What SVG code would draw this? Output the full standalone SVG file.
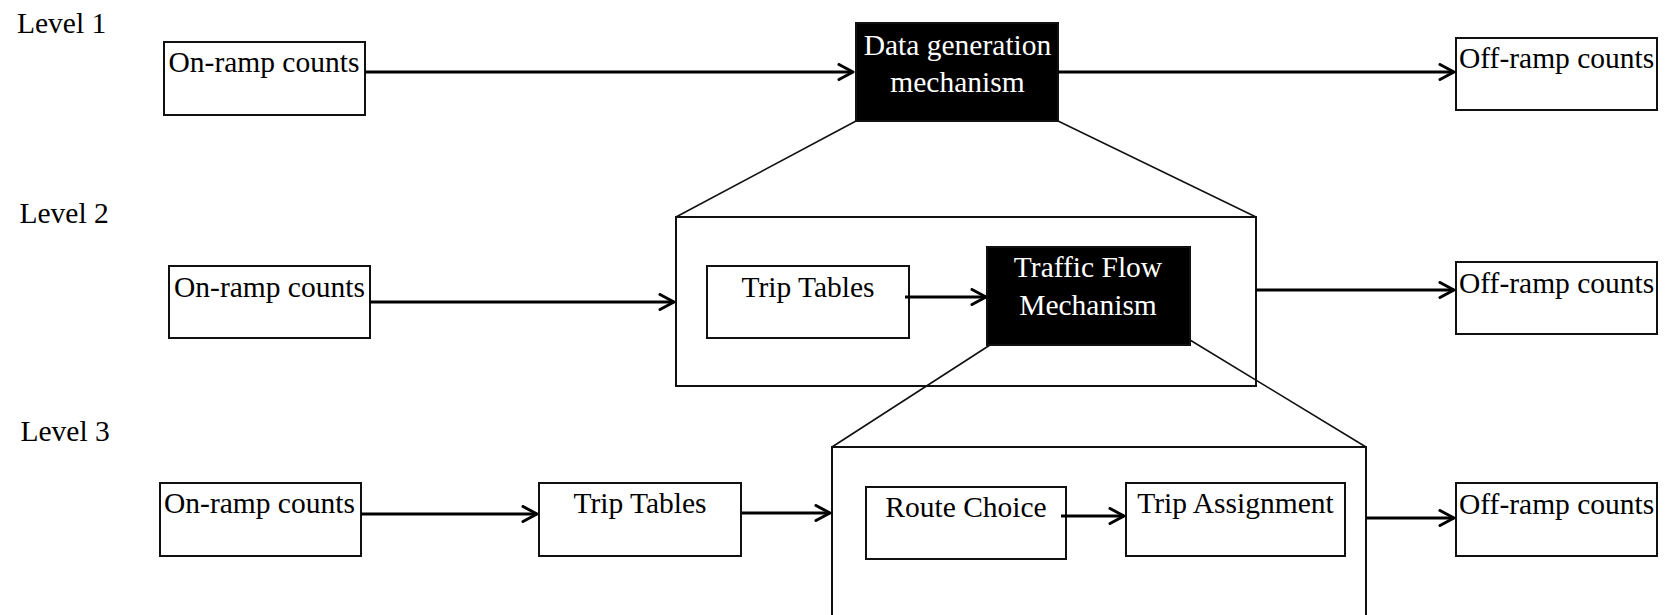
<svg xmlns="http://www.w3.org/2000/svg" width="1672" height="615" viewBox="0 0 1672 615">
  <style>
    .box { fill: #ffffff; stroke: #111111; stroke-width: 2; }
    .dark { fill: #000000; stroke: #111111; stroke-width: 2; }
    .frame { fill: none; stroke: #111111; stroke-width: 2; }
    .zoom { fill: none; stroke: #111111; stroke-width: 1.6; }
    .flow { fill: none; stroke: #000000; stroke-width: 3; marker-end: url(#chevron); }
    text { font-family: "Liberation Serif", "Times New Roman", serif; font-size: 29.5px; fill: #000000; }
    .light { fill: #ffffff; }
    .mid { text-anchor: middle; }
  </style>
  <defs>
    <marker id="chevron" markerUnits="userSpaceOnUse" viewBox="0 0 18 18" refX="16" refY="9" markerWidth="18" markerHeight="18" orient="auto">
      <path d="M2,1.5 L16,9 L2,16.5" fill="none" stroke="#000000" stroke-width="3" stroke-linejoin="round" stroke-linecap="round"/>
    </marker>
  </defs>
  <rect width="1672" height="615" fill="#ffffff"/>

  <!-- level labels -->
  <g id="level-labels">
    <text x="17" y="33">Level 1</text>
    <text x="19.5" y="223">Level 2</text>
    <text x="20.5" y="441">Level 3</text>
  </g>

  <!-- expansion frames (open-bottom frame for level 3) -->
  <g id="frame-level2">
    <rect class="frame" x="676" y="217" width="580" height="169"/>
  </g>
  <g id="frame-level3">
    <path class="frame" d="M832,620 L832,447 L1366,447 L1366,620"/>
  </g>

  <!-- level 1 -->
  <g id="l1-onramp">
    <rect class="box" x="164" y="42" width="201" height="73"/>
    <text x="168.5" y="72">On-ramp counts</text>
  </g>
  <g id="l1-datagen">
    <rect class="dark" x="856" y="23" width="202" height="98"/>
    <text class="light mid" x="957.5" y="54.5">Data generation</text>
    <text class="light mid" x="957.5" y="92">mechanism</text>
  </g>
  <g id="l1-offramp">
    <rect class="box" x="1456" y="38" width="201" height="72"/>
    <text x="1459" y="68">Off-ramp counts</text>
  </g>

  <!-- level 2 -->
  <g id="l2-onramp">
    <rect class="box" x="169" y="266" width="201" height="72"/>
    <text x="174" y="297">On-ramp counts</text>
  </g>
  <g id="l2-triptables">
    <rect class="box" x="707" y="266" width="202" height="72"/>
    <text class="mid" x="808" y="297">Trip Tables</text>
  </g>
  <g id="l2-trafficflow">
    <rect class="dark" x="987" y="247" width="203" height="98"/>
    <text class="light mid" x="1088" y="277">Traffic Flow</text>
    <text class="light mid" x="1088" y="315">Mechanism</text>
  </g>
  <g id="l2-offramp">
    <rect class="box" x="1456" y="262" width="201" height="72"/>
    <text x="1459" y="293">Off-ramp counts</text>
  </g>

  <!-- level 3 -->
  <g id="l3-onramp">
    <rect class="box" x="160" y="483" width="201" height="73"/>
    <text x="164" y="513">On-ramp counts</text>
  </g>
  <g id="l3-triptables">
    <rect class="box" x="539" y="483" width="202" height="73"/>
    <text class="mid" x="640" y="513">Trip Tables</text>
  </g>
  <g id="l3-routechoice">
    <rect class="box" x="866" y="487" width="200" height="72"/>
    <text class="mid" x="966" y="517">Route Choice</text>
  </g>
  <g id="l3-tripassignment">
    <rect class="box" x="1126" y="483" width="219" height="73"/>
    <text class="mid" x="1235.5" y="513">Trip Assignment</text>
  </g>
  <g id="l3-offramp">
    <rect class="box" x="1456" y="483" width="201" height="73"/>
    <text x="1459" y="514">Off-ramp counts</text>
  </g>

  <!-- connectors -->
  <g id="connectors">
    <!-- zoom-out guides -->
    <line class="zoom" x1="856" y1="121" x2="676" y2="217"/>
    <line class="zoom" x1="1058" y1="121" x2="1256" y2="217"/>
    <line class="zoom" x1="990" y1="345" x2="832" y2="447"/>
    <line class="zoom" x1="1190" y1="340" x2="1366" y2="447"/>
    <!-- level 1 flow -->
    <line class="flow" x1="365" y1="72" x2="853" y2="72"/>
    <line class="flow" x1="1058" y1="72" x2="1454" y2="72"/>
    <!-- level 2 flow -->
    <line class="flow" x1="370" y1="302" x2="674" y2="302"/>
    <line class="flow" x1="905" y1="297" x2="986" y2="297"/>
    <line class="flow" x1="1256" y1="290" x2="1454" y2="290"/>
    <!-- level 3 flow -->
    <line class="flow" x1="361" y1="514" x2="537" y2="514"/>
    <line class="flow" x1="742" y1="513" x2="830" y2="513"/>
    <line class="flow" x1="1061" y1="516" x2="1124" y2="516"/>
    <line class="flow" x1="1366" y1="518" x2="1454" y2="518"/>
  </g>
</svg>
